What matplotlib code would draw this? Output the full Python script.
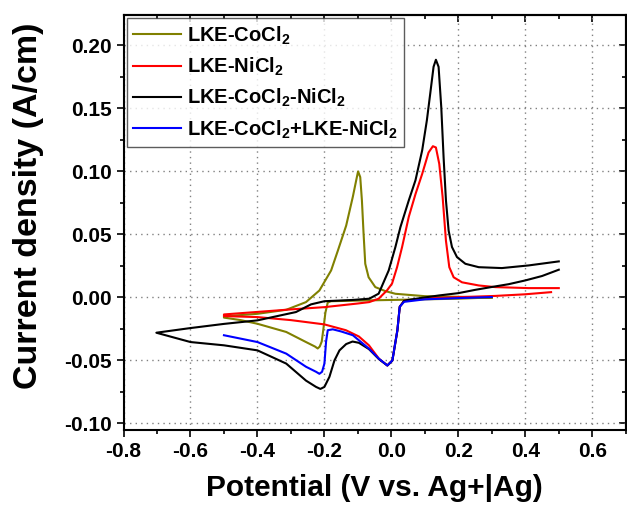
import numpy as np
import matplotlib.pyplot as plt
from matplotlib.ticker import MultipleLocator

plt.rcParams['font.family'] = ['Liberation Sans', 'DejaVu Sans']
plt.rcParams['font.weight'] = 'bold'
plt.rcParams['mathtext.fontset'] = 'custom'
plt.rcParams['mathtext.rm'] = 'Liberation Sans:bold'
plt.rcParams['mathtext.bf'] = 'Liberation Sans:bold'
plt.rcParams['mathtext.default'] = 'bf'

# LKE-CoCl2: cathodic sweep from 0.3 V, then anodic back
co_x = [0.30, 0.20, 0.10, 0.0, -0.10, -0.18, -0.19, -0.197, -0.203, -0.208, -0.214, -0.22,
        -0.228, -0.255, -0.314, -0.40, -0.45, -0.50,
        -0.50, -0.45, -0.40, -0.314, -0.255, -0.215, -0.18, -0.16, -0.135, -0.115, -0.105,
        -0.0995, -0.093, -0.088, -0.083, -0.078, -0.068, -0.048, -0.018, 0.012,
        0.10, 0.20, 0.30]
co_y = [0.000, -0.001, -0.0015, -0.002, -0.0025, -0.003, -0.004, -0.012, -0.025, -0.035, -0.039, -0.0405,
        -0.039, -0.0354, -0.0274, -0.0209, -0.018, -0.016,
        -0.015, -0.014, -0.013, -0.0098, -0.0037, 0.0055, 0.0214, 0.037, 0.057, 0.080, 0.093,
        0.100, 0.0955, 0.077, 0.0505, 0.0267, 0.016, 0.0082, 0.005, 0.0029,
        0.001, 0.0005, 0.000]

# LKE-NiCl2
ni_x = [0.477, 0.40, 0.31, 0.211, 0.10, 0.038, 0.025, 0.018, 0.003, -0.012, -0.037, -0.067,
        -0.097, -0.136, -0.20, -0.30, -0.40, -0.50,
        -0.50, -0.40, -0.30, -0.20, -0.10, -0.066, -0.038, -0.013, 0.002, 0.017, 0.032, 0.052,
        0.072, 0.092, 0.111, 0.124, 0.133, 0.143, 0.153, 0.163, 0.173, 0.186, 0.211, 0.261,
        0.31, 0.41, 0.50]
ni_y = [0.0042, 0.0025, 0.0012, 0.0003, -0.0008, -0.0027, -0.0074, -0.026, -0.050, -0.054, -0.0487, -0.038,
        -0.031, -0.026, -0.0214, -0.018, -0.0156, -0.0148,
        -0.0135, -0.0115, -0.0095, -0.0077, -0.0048, -0.0037, -0.001, 0.0056, 0.011, 0.024, 0.040, 0.064,
        0.082, 0.098, 0.115, 0.120, 0.119, 0.106, 0.080, 0.045, 0.024, 0.016, 0.012, 0.0095,
        0.0082, 0.0074, 0.0074]

# LKE-CoCl2-NiCl2
coni_x = [0.50, 0.45, 0.40, 0.35, 0.30, 0.25, 0.20, 0.143, 0.10, 0.05, 0.038, 0.025, 0.018, 0.003,
          -0.012, -0.037, -0.067, -0.097, -0.116, -0.135, -0.155, -0.17, -0.185, -0.20, -0.212,
          -0.225, -0.255, -0.314, -0.40, -0.50, -0.60, -0.702,
          -0.702, -0.60, -0.50, -0.40, -0.285, -0.24, -0.20, -0.115, -0.066, -0.038, -0.008, 0.012,
          0.027, 0.052, 0.072, 0.092, 0.106, 0.116, 0.126, 0.133, 0.141, 0.149, 0.156, 0.163, 0.171,
          0.181, 0.196, 0.221, 0.261, 0.33, 0.41, 0.50]
coni_y = [0.022, 0.017, 0.0135, 0.0105, 0.0083, 0.006, 0.0034, 0.0016, 0.0, -0.002, -0.0027, -0.0074, -0.026, -0.050,
          -0.054, -0.049, -0.041, -0.036, -0.035, -0.037, -0.042, -0.050, -0.063, -0.071, -0.0726,
          -0.071, -0.066, -0.0525, -0.042, -0.038, -0.0354, -0.028,
          -0.028, -0.0243, -0.021, -0.0182, -0.0116, -0.0055, -0.003, -0.002, -0.001, 0.003, 0.0214, 0.040,
          0.0558, 0.077, 0.093, 0.1167, 0.1405, 0.1616, 0.183, 0.1886, 0.183, 0.151, 0.111, 0.077, 0.053,
          0.040, 0.032, 0.0267, 0.024, 0.0233, 0.0254, 0.0286]

# LKE-CoCl2+LKE-NiCl2 (cathodic sweep only)
sum_x = [0.30, 0.20, 0.10, 0.038, 0.025, 0.018, 0.003, -0.012, -0.037, -0.067, -0.097, -0.115,
         -0.15, -0.175, -0.19, -0.195, -0.20, -0.207, -0.215, -0.225, -0.255, -0.314, -0.40, -0.50]
sum_y = [0.0003, -0.0005, -0.0015, -0.0035, -0.0074, -0.026, -0.050, -0.054, -0.0487, -0.0406, -0.034, -0.030,
         -0.027, -0.0253, -0.026, -0.035, -0.0525, -0.059, -0.0606, -0.059, -0.055, -0.0446, -0.0354, -0.030]

fig = plt.figure(figsize=(6.27, 5.05), dpi=100)
ax = fig.add_axes([0.197, 0.149, 0.801, 0.821])

ax.plot(co_x, co_y, color='#808000', lw=1.5, label=r'LKE-CoCl$_2$')
ax.plot(ni_x, ni_y, color='red', lw=1.5, label=r'LKE-NiCl$_2$')
ax.plot(coni_x, coni_y, color='black', lw=1.5, label=r'LKE-CoCl$_2$-NiCl$_2$')
ax.plot(sum_x, sum_y, color='blue', lw=1.5, label=r'LKE-CoCl$_2$+LKE-NiCl$_2$')

ax.set_xlim(-0.8, 0.7)
ax.set_ylim(-0.105, 0.224)
ax.xaxis.set_major_locator(MultipleLocator(0.2))
ax.xaxis.set_minor_locator(MultipleLocator(0.1))
ax.yaxis.set_major_locator(MultipleLocator(0.05))
ax.yaxis.set_minor_locator(MultipleLocator(0.025))
ax.xaxis.set_major_formatter(lambda v, p: f'{v:.1f}')
ax.yaxis.set_major_formatter(lambda v, p: f'{v:.2f}')
ax.tick_params(which='both', direction='out', width=1.2, labelsize=15)
ax.tick_params(which='major', length=5)
ax.tick_params(which='minor', length=3)

# mirrored ticks pointing inward on top and right
top = ax.secondary_xaxis('top')
top.xaxis.set_major_locator(MultipleLocator(0.2))
top.xaxis.set_minor_locator(MultipleLocator(0.1))
top.tick_params(which='both', direction='in', width=1.2, labeltop=False)
top.tick_params(which='major', length=5)
top.tick_params(which='minor', length=3)
right = ax.secondary_yaxis('right')
right.yaxis.set_major_locator(MultipleLocator(0.05))
right.yaxis.set_minor_locator(MultipleLocator(0.025))
right.tick_params(which='both', direction='in', width=1.2, labelright=False)
right.tick_params(which='major', length=5)
right.tick_params(which='minor', length=3)

for s in ax.spines.values():
    s.set_linewidth(1.5)
top.spines['top'].set_linewidth(1.5)
right.spines['right'].set_linewidth(1.5)

ax.grid(True, color='gray', linestyle=(0, (1, 3)), linewidth=1)

ax.set_xlabel('Potential (V vs. Ag+|Ag)', fontsize=21.5, fontweight='bold', labelpad=10)
ax.set_ylabel('Current density (A/cm)', fontsize=24.5, fontweight='bold')
ax.yaxis.set_label_coords(-0.158, 0.54)

leg = ax.legend(loc='upper left', fontsize=14.5, frameon=True, fancybox=False,
                edgecolor='#333333', handlelength=2.4, borderaxespad=0.15,
                labelspacing=0.45, handletextpad=0.3, borderpad=0.3)
leg.get_frame().set_linewidth(1.0)
for t in leg.get_texts():
    t.set_fontweight('bold')

plt.savefig('out.png', dpi=100)
